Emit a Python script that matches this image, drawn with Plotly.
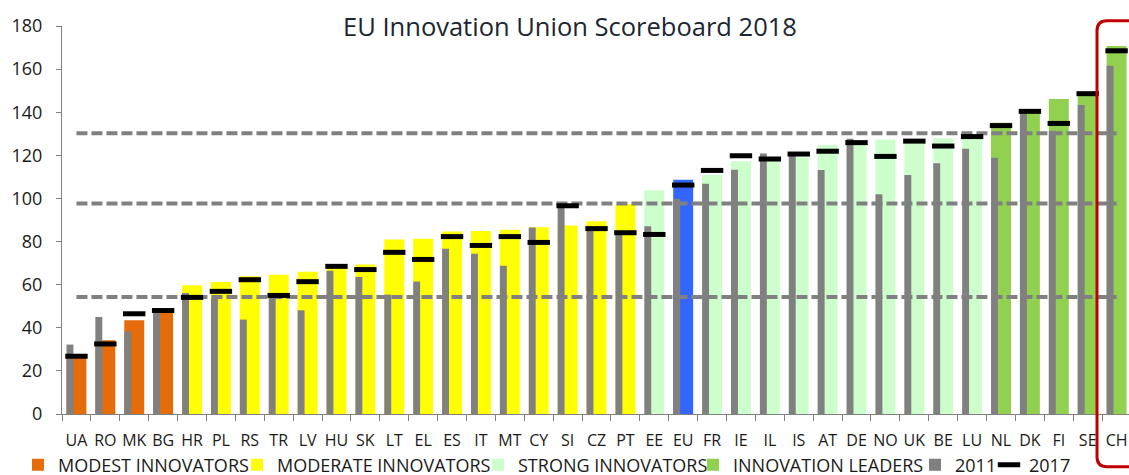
import plotly.graph_objects as go

# ---------------- data ----------------
countries = ["UA", "RO", "MK", "BG", "HR", "PL", "RS", "TR", "LV", "HU", "SK",
             "LT", "EL", "ES", "IT", "MT", "CY", "SI", "CZ", "PT", "EE", "EU",
             "FR", "IE", "IL", "IS", "AT", "DE", "NO", "UK", "BE", "LU",
             "NL", "DK", "FI", "SE", "CH"]
groups = (["modest"] * 4 + ["moderate"] * 16 + ["strong"] + ["eu"] +
          ["strong"] * 10 + ["leaders"] * 5)
score_2018 = [27.1, 34.2, 43.5, 48.9, 59.7, 61.2, 63.9, 64.6, 66.0, 69.3, 69.3,
              80.9, 81.3, 84.7, 84.9, 85.5, 86.6, 87.4, 89.4, 97.4, 103.8, 108.7,
              111.0, 117.3, 117.6, 119.1, 124.8, 126.8, 127.4, 127.6, 127.9, 129.6,
              135.1, 141.0, 146.1, 147.8, 170.7]
score_2011 = [32.2, 45.0, 38.3, 46.9, 56.1, 53.5, 43.8, 55.4, 48.1, 66.5, 63.6,
              55.4, 61.5, 76.7, 74.4, 68.8, 86.5, 98.2, 85.8, 84.7, 87.1, 99.9,
              106.8, 113.3, 120.9, 121.5, 113.2, 127.7, 101.9, 110.9, 116.3, 123.1,
              118.9, 140.7, 131.4, 143.3, 161.6]
score_2017 = [26.8, 32.5, 46.5, 48.0, 54.1, 56.9, 62.3, 55.0, 61.4, 68.5, 67.0,
              75.0, 71.7, 82.3, 78.2, 82.3, 79.6, 96.6, 86.0, 84.1, 83.3, 106.2,
              113.0, 119.8, 118.3, 120.6, 121.9, 125.9, 119.5, 126.6, 124.3, 128.7,
              133.8, 140.4, 134.8, 148.6, 168.5]
thresholds = [130.3, 97.7, 54.3]

group_names = {"modest": "MODEST INNOVATORS", "moderate": "MODERATE INNOVATORS",
               "strong": "STRONG INNOVATORS", "leaders": "INNOVATION LEADERS",
               "eu": "EU"}
group_colors = {"modest": "#E46C0A", "moderate": "#FFFF00", "strong": "#CCFFCC",
                "leaders": "#92D050", "eu": "#3366FF"}
group_legend = {"modest": "legend", "moderate": "legend2", "strong": "legend3",
                "leaders": "legend4", "eu": "legend"}

FONT = "Open Sans"
TXT = "#1a1a1a"
MAIN_W = 0.69
GRAY_W = 0.24

fig = go.Figure()

for g in ["modest", "moderate", "strong", "eu", "leaders"]:
    xs = [c for c, gg in zip(countries, groups) if gg == g]
    ys = [v for v, gg in zip(score_2018, groups) if gg == g]
    fig.add_trace(go.Bar(
        x=xs, y=ys, name=group_names[g], width=MAIN_W, offset=-MAIN_W / 2,
        marker=dict(color=group_colors[g], line=dict(width=0)),
        showlegend=(g != "eu"), legend=group_legend[g]))

fig.add_trace(go.Bar(
    x=countries, y=score_2011, name="2011", width=GRAY_W, offset=-MAIN_W / 2,
    marker=dict(color="#808080", line=dict(width=0)), legend="legend5"))

for t in thresholds:
    fig.add_trace(go.Scatter(
        x=[countries[0], countries[-1]], y=[t, t], mode="lines",
        line=dict(color="#808080", width=4, dash="11px,4px"),
        showlegend=False, hoverinfo="skip"))

fig.add_trace(go.Scatter(
    x=countries, y=score_2017, name="2017", mode="markers",
    marker=dict(symbol="line-ew", size=16, color="black",
                line=dict(color="black", width=5)),
    legend="legend6"))

# --------------- layout ---------------
W, H = 1129, 475
ML, MT, MB = 62, 26, 61
plot_w = W - ML
plot_h = H - MT - MB
fx = lambda p: (p - ML) / plot_w
fy = lambda p: (H - MB - p) / plot_h


def legend_at(text_start_px):
    return dict(orientation="h", xref="paper", yref="paper",
                x=fx(text_start_px - 40), y=fy(465),
                xanchor="left", yanchor="middle",
                bgcolor="rgba(0,0,0,0)", font=dict(family=FONT, size=18, color=TXT),
                itemclick=False, itemdoubleclick=False)


# red rounded frame around CH
px0, px1 = 1097, 1160
pyt, pyb = 20.7, 466.7
r = 10
path = (f"M {fx(px1)},{fy(pyt)} L {fx(px0 + r)},{fy(pyt)} "
        f"Q {fx(px0)},{fy(pyt)} {fx(px0)},{fy(pyt + r)} "
        f"L {fx(px0)},{fy(pyb - r)} "
        f"Q {fx(px0)},{fy(pyb)} {fx(px0 + r)},{fy(pyb)} "
        f"L {fx(px1)},{fy(pyb)}")

fig.update_layout(
    width=W, height=H,
    margin=dict(l=ML, r=0, t=MT, b=MB, autoexpand=False),
    paper_bgcolor="white", plot_bgcolor="white",
    barmode="overlay",
    title=dict(text="EU Innovation Union Scoreboard 2018",
               font=dict(family=FONT, size=25.5, color="#1b2631"),
               x=570 / W, xanchor="center", xref="container",
               y=1 - 27.5 / H, yanchor="middle", yref="container"),
    xaxis=dict(type="category", categoryorder="array", categoryarray=countries,
               range=[-0.5, 36.43], showgrid=False, showline=True,
               linecolor="#808080", linewidth=1, ticks="outside",
               tickson="boundaries", ticklen=6, tickcolor="#808080",
               tickangle=0, automargin=False,
               tickfont=dict(family=FONT, size=16, color=TXT),
               ticklabelstandoff=12, fixedrange=True),
    yaxis=dict(range=[0, 180], tick0=0, dtick=20, showgrid=False,
               zeroline=False, showline=True, linecolor="#808080", linewidth=1,
               ticks="outside", ticklen=5, tickcolor="#808080", automargin=False,
               tickfont=dict(family=FONT, size=18, color=TXT),
               ticklabelstandoff=10, fixedrange=True),
    legend=legend_at(58),
    legend2=legend_at(277),
    legend3=legend_at(518),
    legend4=legend_at(733),
    legend5=legend_at(955),
    legend6=legend_at(1029),
    shapes=[dict(type="path", path=path, xref="paper", yref="paper",
                 line=dict(color="#C00000", width=3), layer="above")],
    showlegend=True,
)

fig.write_html("out.html",
               config={"displayModeBar": False},
               post_script="document.body.style.margin='0';"
                           "document.body.style.overflow='hidden';")
